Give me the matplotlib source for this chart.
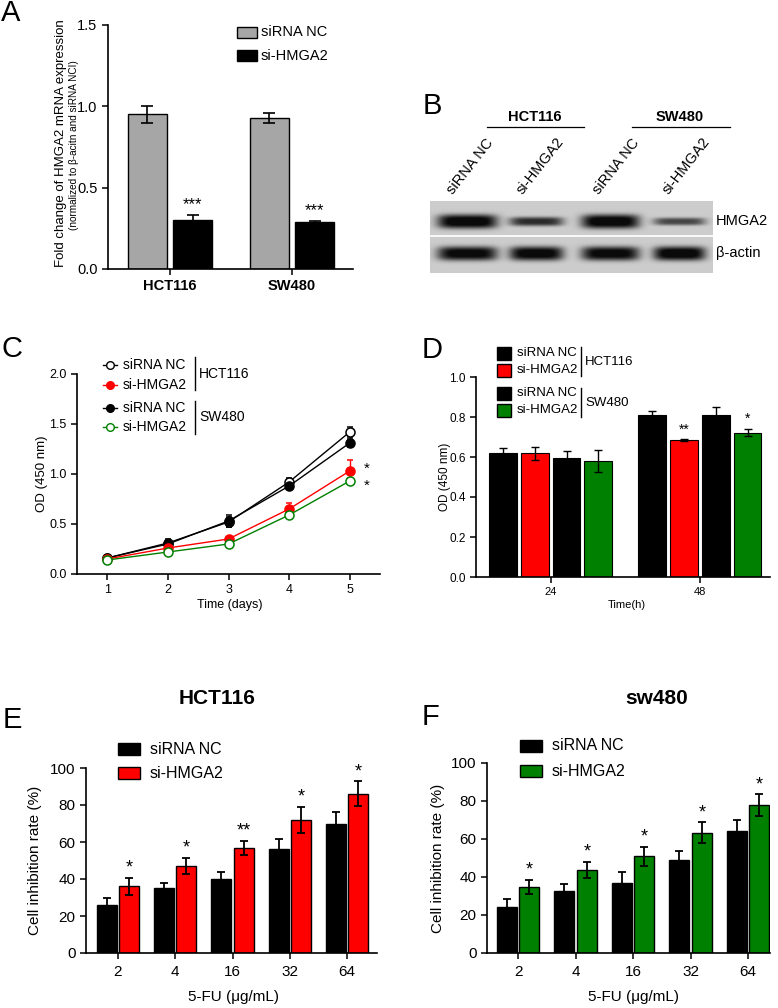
import numpy as np
import matplotlib
matplotlib.use("Agg")
import matplotlib.pyplot as plt
from matplotlib.patches import Rectangle
from matplotlib.lines import Line2D

plt.rcParams['font.family'] = ['Liberation Sans', 'DejaVu Sans']
plt.rcParams['axes.linewidth'] = 1.2
plt.rcParams['xtick.major.width'] = 1.1
plt.rcParams['ytick.major.width'] = 1.1
plt.rcParams['xtick.major.size'] = 4
plt.rcParams['ytick.major.size'] = 4

# ---------------- data ----------------
# Panel A
a_cells = ['HCT116', 'SW480']
a_nc = [0.95, 0.93]
a_nc_err = [0.05, 0.03]
a_si = [0.30, 0.29]
a_si_err = [0.03, 0.005]
a_sig = ['***', '***']

# Panel B (western blot band strengths per lane)
b_lanes = ['siRNA NC', 'si-HMGA2', 'siRNA NC', 'si-HMGA2']
b_hmga2 = [1.0, 0.75, 1.0, 0.62]
b_actin = [0.95, 0.97, 0.95, 1.0]

# Panel C
c_days = [1, 2, 3, 4, 5]
c_hct_nc = [0.16, 0.31, 0.52, 0.92, 1.42]
c_hct_nc_err = [0.02, 0.04, 0.05, 0.04, 0.05]
c_hct_si = [0.15, 0.26, 0.35, 0.65, 1.03]
c_hct_si_err = [0.02, 0.02, 0.02, 0.06, 0.11]
c_sw_nc = [0.16, 0.30, 0.53, 0.88, 1.31]
c_sw_nc_err = [0.02, 0.03, 0.06, 0.03, 0.04]
c_sw_si = [0.14, 0.22, 0.30, 0.59, 0.93]
c_sw_si_err = [0.01, 0.02, 0.02, 0.02, 0.03]

# Panel D
d_times = ['24', '48']
d_hct_nc = [0.62, 0.81]
d_hct_nc_err = [0.025, 0.02]
d_hct_si = [0.618, 0.683]
d_hct_si_err = [0.033, 0.005]
d_sw_nc = [0.595, 0.812]
d_sw_nc_err = [0.035, 0.04]
d_sw_si = [0.578, 0.722]
d_sw_si_err = [0.055, 0.018]

# Panels E/F
doses = ['2', '4', '16', '32', '64']
e_nc = [26, 35, 40, 56, 70]
e_nc_err = [4, 3, 4, 5.5, 6]
e_si = [36, 47, 57, 72, 86]
e_si_err = [4.8, 4.5, 3.8, 7, 6.8]
e_sig = ['*', '*', '**', '*', '*']
f_nc = [24, 32.5, 37, 48.8, 64]
f_nc_err = [4.4, 3.7, 5.5, 5, 6]
f_si = [34.7, 43.7, 50.9, 63.3, 77.7]
f_si_err = [3.9, 4.4, 5, 5.5, 5.8]
f_sig = ['*', '*', '*', '*', '*']

RED = '#ff0000'
GREEN = '#008000'
GRAY = '#a6a6a6'

W, H = 778, 1008
fig = plt.figure(figsize=(W / 100, H / 100), dpi=100)


def rect(l, t, r, b):
    return [l / W, 1 - b / H, (r - l) / W, (b - t) / H]


def fx(x):
    return x / W


def fy(y):
    return 1 - y / H


def ftext(x, y, s, **kw):
    kw.setdefault('va', 'center')
    return fig.text(fx(x), fy(y), s, **kw)


def fbox(x0, y0, x1, y1, color):
    fig.add_artist(Rectangle((fx(x0), fy(y1)), (x1 - x0) / W, (y1 - y0) / H,
                             transform=fig.transFigure, facecolor=color,
                             edgecolor='black', linewidth=1.0))


def fline(xs, ys, **kw):
    fig.add_artist(Line2D([fx(v) for v in xs], [fy(v) for v in ys],
                          transform=fig.transFigure, **kw))


def style(ax):
    ax.spines['top'].set_visible(False)
    ax.spines['right'].set_visible(False)
    ax.tick_params(direction='out')


def label_xy(ax, axis, text, x, y, size, **kw):
    if axis == 'x':
        ax.set_xlabel(text, fontsize=size, **kw)
        ax.xaxis.set_label_coords(fx(x), fy(y), transform=fig.transFigure)
        ax.xaxis.label.set_va('center')
    else:
        ax.set_ylabel(text, fontsize=size, **kw)
        ax.yaxis.set_label_coords(fx(x), fy(y), transform=fig.transFigure)
        ax.yaxis.label.set_va('center')


# ---------------- Panel A ----------------
axA = fig.add_axes(rect(108, 25, 353, 269))
style(axA)
xa = np.arange(len(a_cells))
wA, oA = 0.32, 0.186
ek = dict(ecolor='black', capsize=4, elinewidth=1.2, capthick=1.2)
axA.bar(xa - oA, a_nc, wA, yerr=a_nc_err, color=GRAY, edgecolor='black', linewidth=1.0, error_kw=ek)
axA.bar(xa + oA, a_si, wA, yerr=a_si_err, color='black', edgecolor='black', linewidth=1.0, error_kw=ek)
for i in range(len(a_cells)):
    axA.text(xa[i] + oA, a_si[i] + a_si_err[i] + 0.02, a_sig[i], ha='center', va='bottom', fontsize=12)
axA.set_xlim(-0.51, 1.5)
axA.set_ylim(0, 1.5)
axA.set_yticks([0, 0.5, 1.0, 1.5])
axA.set_yticklabels(['0.0', '0.5', '1.0', '1.5'], fontsize=10.5)
axA.set_xticks(xa)
axA.set_xticklabels(a_cells, fontsize=10.5, fontweight='bold')
fbox(237, 27, 257, 38, GRAY)
ftext(261, 32.5, 'siRNA NC', fontsize=10.5)
fbox(237, 50, 257, 61, 'black')
ftext(261, 55.5, 'si-HMGA2', fontsize=10.5)
ftext(61, 143, 'Fold change of HMGA2 mRNA expression', rotation=90, ha='center', fontsize=9.5)
ftext(74, 145, '(normalized to β-acitn and siRNA NCI)', rotation=90, ha='center', fontsize=7.2)
ftext(11, 13, 'A', ha='center', fontsize=21)

# ---------------- Panel B ----------------
axB = fig.add_axes(rect(430, 201, 713, 273))
nr, nc = 72, 283
yy, xx = np.mgrid[0:nr, 0:nc]
img = np.full((nr, nc), 0.80)
lane_cx = [37, 106, 180, 249]
lane_w = [30, 27, 29, 26]
h_hmga2 = [7.0, 4.5, 7.0, 3.8]
for i in range(4):
    prof = np.exp(-np.abs((xx - lane_cx[i]) / lane_w[i]) ** 5) * np.exp(-np.abs((yy - 20) / h_hmga2[i]) ** 3)
    img -= 0.85 * b_hmga2[i] * prof
    prof2 = np.exp(-np.abs((xx - lane_cx[i]) / lane_w[i]) ** 5) * np.exp(-np.abs((yy - 52) / 7.0) ** 3)
    img -= 0.85 * b_actin[i] * prof2
img[34:36, :] = 0.97
img = np.clip(img, 0.04, 1)
axB.imshow(img, cmap='gray', vmin=0, vmax=1, aspect='auto', interpolation='bilinear')
axB.axis('off')
ftext(716, 221, 'HMGA2', fontsize=10.5)
ftext(716, 253, 'β-actin', fontsize=10.5)
lab_x = [455, 525, 601, 671]
for i, lab in enumerate(b_lanes):
    fig.text(fx(lab_x[i]), fy(197), lab, rotation=52, rotation_mode='anchor',
             ha='left', va='bottom', fontsize=10.5)
ftext(535, 117, 'HCT116', ha='center', fontsize=10.5, fontweight='bold')
fline([487, 584], [127, 127], color='black', linewidth=0.9)
ftext(680, 117, 'SW480', ha='center', fontsize=10.5, fontweight='bold')
fline([632, 730], [127, 127], color='black', linewidth=0.9)
ftext(432, 106, 'B', ha='center', fontsize=21)

# ---------------- Panel C ----------------
axC = fig.add_axes(rect(77, 374, 380, 574))
style(axC)
ms = 6.5
series_c = [
    (c_hct_nc, c_hct_nc_err, 'black', 'white'),
    (c_sw_nc, c_sw_nc_err, 'black', 'black'),
    (c_hct_si, c_hct_si_err, RED, RED),
    (c_sw_si, c_sw_si_err, GREEN, 'white'),
]
for vals, errs, col, face in series_c:
    axC.errorbar(c_days, vals, yerr=errs, color=col, marker='o', markersize=ms,
                 markerfacecolor=face, markeredgecolor=col, markeredgewidth=1.1,
                 linewidth=1.0, capsize=2, elinewidth=1.0, capthick=1.0)
axC.text(5.23, c_hct_si[-1] + 0.02, '*', ha='left', va='center', fontsize=11)
axC.text(5.23, c_sw_si[-1] - 0.05, '*', ha='left', va='center', fontsize=11)
axC.set_xlim(0.5, 5.5)
axC.set_ylim(0, 2.0)
axC.set_xticks(c_days)
axC.set_xticklabels([str(d) for d in c_days], fontsize=9)
axC.set_yticks([0, 0.5, 1.0, 1.5, 2.0])
axC.set_yticklabels(['0.0', '0.5', '1.0', '1.5', '2.0'], fontsize=9)
label_xy(axC, 'x', 'Time (days)', 230, 605, 9)
label_xy(axC, 'y', 'OD (450 nm)', 42, 474, 9.5)
leg_c = [(365, 'black', 'white'), (385, RED, RED), (408, 'black', 'black'), (427, GREEN, 'white')]
leg_c_txt = ['siRNA NC', 'si-HMGA2', 'siRNA NC', 'si-HMGA2']
for (yv, col, face), t in zip(leg_c, leg_c_txt):
    fline([103, 117], [yv, yv], color=col, linewidth=1.0)
    fline([110], [yv], color=col, marker='o', markersize=5.5, markerfacecolor=face,
          markeredgecolor=col, markeredgewidth=1.0, linestyle='none')
    ftext(123, yv, t, fontsize=10)
fline([195, 195], [357, 390], color='black', linewidth=1.0)
fline([195, 195], [401, 434], color='black', linewidth=1.0)
ftext(199, 374, 'HCT116', fontsize=10)
ftext(199, 417, 'SW480', fontsize=10)
ftext(12, 349, 'C', ha='center', fontsize=21)

# ---------------- Panel D ----------------
axD = fig.add_axes(rect(476, 377, 770, 577))
style(axD)
xd = np.arange(len(d_times))
wD, sD = 0.187, 0.213
series_d = [
    (d_hct_nc, d_hct_nc_err, 'black'),
    (d_hct_si, d_hct_si_err, RED),
    (d_sw_nc, d_sw_nc_err, 'black'),
    (d_sw_si, d_sw_si_err, GREEN),
]
ekd = dict(ecolor='black', capsize=3, elinewidth=1.0, capthick=1.0)
for k, (vals, errs, col) in enumerate(series_d):
    axD.bar(xd + (k - 1.5) * sD, vals, wD, yerr=errs, color=col, edgecolor='black',
            linewidth=0.8, error_kw=ekd)
axD.text(1 + (1 - 1.5) * sD, d_hct_si[1] + d_hct_si_err[1] + 0.015, '**', ha='center', va='bottom', fontsize=10)
axD.text(1 + (3 - 1.5) * sD, d_sw_si[1] + d_sw_si_err[1] + 0.015, '*', ha='center', va='bottom', fontsize=10)
axD.set_xlim(-0.5, 1.47)
axD.set_ylim(0, 1.0)
axD.set_xticks(xd)
axD.set_xticklabels(d_times, fontsize=8)
axD.set_yticks([0, 0.2, 0.4, 0.6, 0.8, 1.0])
axD.set_yticklabels(['0.0', '0.2', '0.4', '0.6', '0.8', '1.0'], fontsize=8.5)
label_xy(axD, 'x', 'Time(h)', 627, 605, 8)
label_xy(axD, 'y', 'OD (450 nm)', 445, 477, 8.5)
leg_d = [(353, 'black'), (370, RED), (393, 'black'), (410, GREEN)]
for (yv, col), t in zip(leg_d, leg_c_txt):
    fbox(497, yv - 6.5, 511, yv + 6.5, col)
    ftext(517, yv, t, fontsize=9.5)
fline([581, 581], [347, 376], color='black', linewidth=1.0)
fline([581, 581], [388, 417], color='black', linewidth=1.0)
ftext(585, 362, 'HCT116', fontsize=9.5)
ftext(585, 403, 'SW480', fontsize=9.5)
ftext(432, 350, 'D', ha='center', fontsize=21)


# ---------------- Panels E / F ----------------
def dose_panel(r, nc_v, nc_e, si_v, si_e, sig, col, xlim):
    ax = fig.add_axes(r)
    style(ax)
    x = np.arange(len(doses))
    w, o = 0.35, 0.195
    eke = dict(ecolor='black', capsize=3, elinewidth=1.3, capthick=1.3)
    ax.bar(x - o, nc_v, w, yerr=nc_e, color='black', edgecolor='black', linewidth=1.0, error_kw=eke)
    ax.bar(x + o, si_v, w, yerr=si_e, color=col, edgecolor='black', linewidth=1.0, error_kw=eke)
    for i in range(len(doses)):
        ax.text(x[i] + o, si_v[i] + si_e[i] + 0.5, sig[i], ha='center', va='bottom', fontsize=13)
    ax.set_xlim(*xlim)
    ax.set_ylim(0, 100)
    ax.set_xticks(x)
    ax.set_xticklabels(doses, fontsize=11)
    ax.set_yticks([0, 20, 40, 60, 80, 100])
    ax.set_yticklabels(['0', '20', '40', '60', '80', '100'], fontsize=11)
    ax.tick_params(axis='x', pad=5)
    return ax


axE = dose_panel(rect(86, 768, 377, 953), e_nc, e_nc_err, e_si, e_si_err, e_sig, RED, (-0.556, 4.52))
label_xy(axE, 'x', '5-FU (μg/mL)', 233, 997, 11)
label_xy(axE, 'y', 'Cell inhibition rate (%)', 35, 860, 11)
ftext(217, 698, 'HCT116', ha='center', fontsize=15, fontweight='bold')
fbox(118, 743, 140, 755, 'black')
ftext(150, 749, 'siRNA NC', fontsize=11.5)
fbox(118, 767, 140, 779, RED)
ftext(150, 773, 'si-HMGA2', fontsize=11.5)
ftext(12, 720, 'E', ha='center', fontsize=21)

axF = dose_panel(rect(487, 763, 770, 953), f_nc, f_nc_err, f_si, f_si_err, f_sig, GREEN, (-0.54, 4.38))
label_xy(axF, 'x', '5-FU (μg/mL)', 633, 997, 11)
label_xy(axF, 'y', 'Cell inhibition rate (%)', 438, 858, 11)
ftext(657, 698, 'sw480', ha='center', fontsize=15, fontweight='bold')
fbox(520, 740, 542, 752, 'black')
ftext(552, 746, 'siRNA NC', fontsize=11.5)
fbox(520, 765, 542, 777, GREEN)
ftext(552, 771, 'si-HMGA2', fontsize=11.5)
ftext(431, 717, 'F', ha='center', fontsize=21)

fig.savefig('out.png', dpi=100)
